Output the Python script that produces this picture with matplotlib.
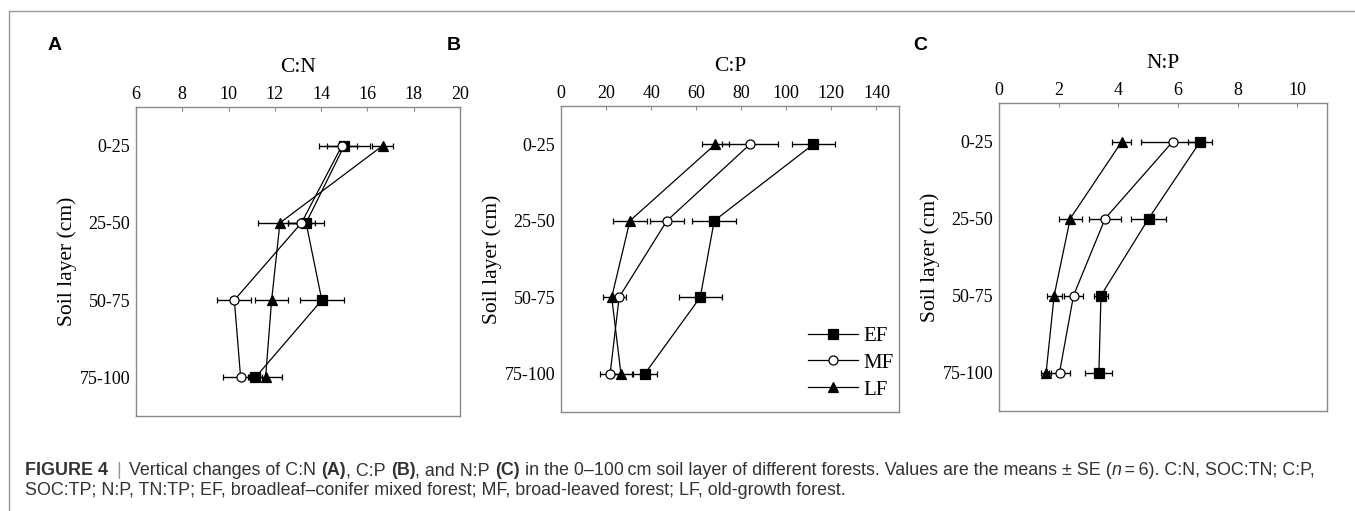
import numpy as np
import matplotlib.pyplot as plt
from matplotlib.lines import Line2D

# soil layers and ratios (means +- SE)
layers = ['0-25', '25-50', '50-75', '75-100']

cn_ef = [15.0, 13.35, 14.03, 11.16]
cn_ef_se = [1.1, 0.78, 0.94, 0.3]
cn_mf = [14.9, 13.15, 10.25, 10.52]
cn_mf_se = [0.63, 0.6, 0.74, 0.78]
cn_lf = [16.66, 12.22, 11.86, 11.6]
cn_lf_se = [0.45, 0.93, 0.7, 0.7]

cp_ef = [112.0, 68.0, 61.8, 37.2]
cp_ef_se = [9.7, 9.7, 9.6, 5.6]
cp_mf = [83.9, 47.0, 25.8, 21.8]
cp_mf_se = [12.5, 7.7, 3.0, 4.7]
cp_lf = [68.5, 30.6, 22.5, 26.6]
cp_lf_se = [6.0, 7.4, 4.0, 5.5]

np_ef = [6.75, 5.02, 3.42, 3.35]
np_ef_se = [0.4, 0.59, 0.24, 0.45]
np_mf = [5.83, 3.56, 2.50, 2.03]
np_mf_se = [1.07, 0.53, 0.33, 0.36]
np_lf = [4.12, 2.39, 1.85, 1.58]
np_lf_se = [0.32, 0.38, 0.25, 0.17]

serif = 'Liberation Serif'
sans = 'Liberation Sans'
spine_col = '#8a8a8a'

W, H = 1355, 511
fig = plt.figure(figsize=(W / 100, H / 100), dpi=100)

def px_axes(l, r, t, b):
    return [l / W, 1 - b / H, (r - l) / W, (b - t) / H]

panels = [
    dict(pos=px_axes(136, 460, 107, 416), xlim=(6, 20), xt=np.arange(6, 21, 2), title='C:N',
         data=[(cn_ef, cn_ef_se), (cn_mf, cn_mf_se), (cn_lf, cn_lf_se)], tag='A', tagx=48),
    dict(pos=px_axes(561, 899, 106, 412), xlim=(0, 150), xt=np.arange(0, 141, 20), title='C:P',
         data=[(cp_ef, cp_ef_se), (cp_mf, cp_mf_se), (cp_lf, cp_lf_se)], tag='B', tagx=447),
    dict(pos=px_axes(999, 1327, 103, 411), xlim=(0, 11), xt=np.arange(0, 11, 2), title='N:P',
         data=[(np_ef, np_ef_se), (np_mf, np_mf_se), (np_lf, np_lf_se)], tag='C', tagx=913),
]

styles = [dict(marker='s', mfc='black', label='EF', ms=6.5),
          dict(marker='o', mfc='white', label='MF', ms=6.5),
          dict(marker='^', mfc='black', label='LF', ms=7.5)]

y = np.arange(1, len(layers) + 1)

for p in panels:
    ax = fig.add_axes(p['pos'])
    for (vals, se), st in zip(p['data'], styles):
        ax.errorbar(vals, y, xerr=se, color='black', lw=0.9, elinewidth=1.0,
                    capsize=2.5, capthick=1.0, marker=st['marker'], mfc=st['mfc'],
                    mec='black', mew=0.9, ms=st['ms'])
    ax.set_xlim(*p['xlim'])
    ax.set_ylim(4.5, 0.5)
    ax.set_xticks(p['xt'])
    ax.set_yticks(y)
    ax.set_yticklabels(layers)
    ax.xaxis.tick_top()
    ax.xaxis.set_label_position('top')
    ax.tick_params(axis='x', direction='in', length=3, width=0.8, color=spine_col,
                   labelsize=13, pad=3)
    ax.tick_params(axis='y', length=0, labelsize=13, pad=4)
    for lab in ax.get_xticklabels() + ax.get_yticklabels():
        lab.set_fontfamily(serif)
    ax.set_xlabel(p['title'], fontsize=15.5, fontfamily=serif, labelpad=10)
    ax.set_ylabel('Soil layer (cm)', fontsize=15.5, fontfamily=serif, labelpad=2)
    for s in ax.spines.values():
        s.set_color(spine_col)
        s.set_linewidth(1.0)
    fig.text(p['tagx'] / W, 1 - 45 / H, p['tag'], fontsize=14, fontweight='bold',
             fontfamily=sans, ha='left', va='center')
    if p['tag'] == 'B':
        handles = [Line2D([], [], color='black', lw=0.9, marker=st['marker'], mfc=st['mfc'],
                          mec='black', mew=0.9, ms=st['ms'], label=st['label'])
                   for st in styles]
        ax.legend(handles=handles, loc='lower right', frameon=False,
                  prop=dict(family=serif, size=15), bbox_to_anchor=(0.997, 0.027),
                  handlelength=2.36, handletextpad=0.29, labelspacing=0.35,
                  borderaxespad=0.0, borderpad=0.2)

# border of the figure panel
fig.add_artist(Line2D([9 / W, 9 / W, 1], [0, 1 - 11 / H, 1 - 11 / H],
                      transform=fig.transFigure, color='#9a9a9a', lw=1.0))

# caption, pieced together to mix bold / italic
cap_size = 12.9
cap_col = '#333333'
pieces = [('FIGURE 4', 'bold', 'normal', cap_col, 0),
          ('|', 'normal', 'normal', '#999999', 6),
          ('Vertical changes of C:N', 'normal', 'normal', cap_col, 6),
          ('(A)', 'bold', 'normal', cap_col, 3.6),
          (', C:P', 'normal', 'normal', cap_col, 0),
          ('(B)', 'bold', 'normal', cap_col, 3.6),
          (', and N:P', 'normal', 'normal', cap_col, 0),
          ('(C)', 'bold', 'normal', cap_col, 3.6),
          ('in the 0\u2013100\u2009cm soil layer of different forests. Values are the means \u00b1 SE (',
           'normal', 'normal', cap_col, 3.6),
          ('n', 'normal', 'italic', cap_col, 0),
          ('\u2009=\u20096). C:N, SOC:TN; C:P,', 'normal', 'normal', cap_col, 0)]

prev = None
for txt, wt, sty, col, gap in pieces:
    kw = dict(fontsize=cap_size, fontweight=wt, fontstyle=sty, color=col,
              fontfamily=[sans, 'DejaVu Sans'], va='bottom', ha='left')
    if prev is None:
        prev = fig.text(25 / W, 1 - 479 / H, txt, **kw)
    else:
        prev = fig.add_artist(plt.Annotation(txt, xy=(1, 0), xycoords=prev,
                                             xytext=(gap, 0), textcoords='offset points', **kw))

fig.text(25 / W, 1 - 498.5 / H,
         'SOC:TP; N:P, TN:TP; EF, broadleaf\u2013conifer mixed forest; MF, broad-leaved forest; LF, old-growth forest.',
         fontsize=cap_size, color=cap_col, fontfamily=[sans, 'DejaVu Sans'], va='bottom', ha='left')

fig.savefig('out.png', dpi=100)
